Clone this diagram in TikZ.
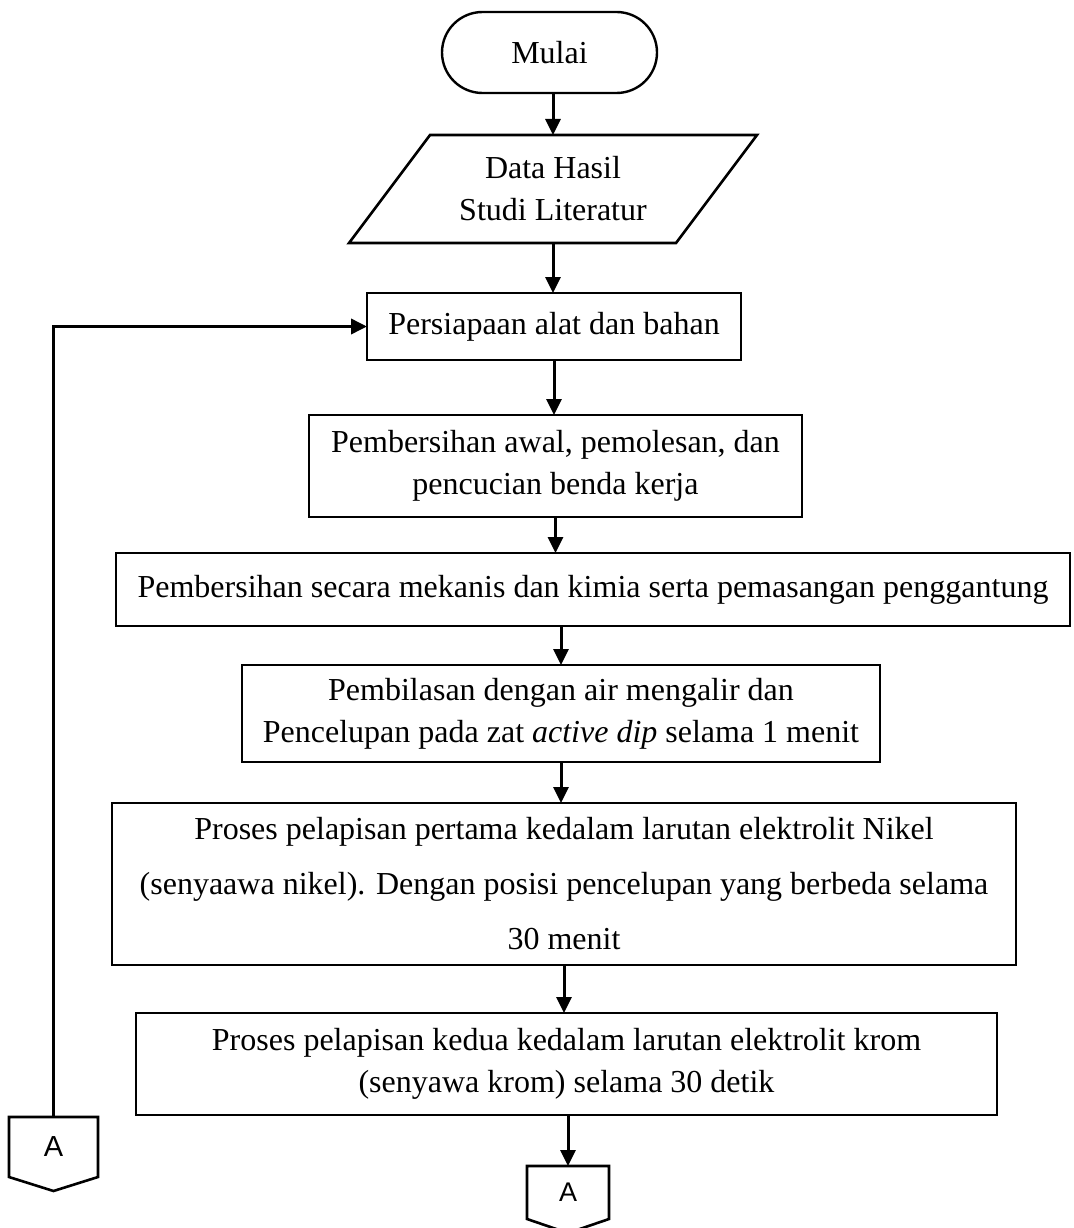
\documentclass[tikz,border=0pt]{standalone}
\usepackage{fontspec}
\setmainfont{Liberation Serif}
\setsansfont{Liberation Sans}
\usetikzlibrary{arrows.meta,calc}
\begin{document}
\begin{tikzpicture}[x=1pt,y=-1pt,
  every node/.style={inner sep=0pt, outer sep=0pt},
  txt/.style={align=center, font=\fontsize{32}{42}\selectfont},
  proc/.style={txt, draw, line width=2.4pt, rectangle},
  flow/.style={line width=3pt, -{Triangle[length=16pt,width=15pt]}},
  conn/.style={line width=2.6pt, line join=miter},
  offpage/.style={minimum width=#1, font=\sffamily\fontsize{29}{29}\selectfont},
  ]
\useasboundingbox (0,0) rectangle (1073,1228);

\node[proc, rounded corners=40.5pt, minimum width=215pt, minimum height=81pt] (start) at (549.5,52.5) {Mulai};

\node[txt, minimum width=250pt, minimum height=108pt] (data) at (553,189) {Data Hasil\\Studi Literatur};
\draw[conn] ($(data.north)+(-123,0)$) -- ($(data.north)+(204,0)$) -- ($(data.south)+(123,0)$) -- ($(data.south)+(-204,0)$) -- cycle;

\node[proc, minimum width=374pt, minimum height=67pt] (b1) at (554,326.5) {Persiapaan alat dan bahan};
\node[proc, minimum width=493pt, minimum height=102pt] (b2) at (555.5,466) {Pembersihan awal, pemolesan, dan\\pencucian benda kerja};
\node[proc, minimum width=954pt, minimum height=73pt] (b3) at (593,589.5) {Pembersihan secara mekanis dan kimia serta pemasangan penggantung};
\node[proc, minimum width=638pt, minimum height=97pt] (b4) at (561,713.5) {Pembilasan dengan air mengalir dan\\Pencelupan pada zat \textit{active dip} selama 1 menit};
\node[proc, minimum width=904pt, minimum height=162pt, font=\fontsize{32}{55}\selectfont] (b5) at (564,884) {Proses pelapisan pertama kedalam larutan elektrolit Nikel\\(senyaawa nikel). Dengan posisi pencelupan yang berbeda selama\\30 menit};
\node[proc, minimum width=861pt, minimum height=102pt] (b6) at (566.5,1064) {Proses pelapisan kedua kedalam larutan elektrolit krom\\(senyawa krom) selama 30 detik};

\node[offpage=89pt, minimum height=60pt] (A1) at (53.5,1147) {A};
\draw[conn] (A1.south west) -- (A1.north west) -- (A1.north east) -- (A1.south east) -- ($(A1.south)+(0,14)$) -- cycle;

\node[offpage=82pt, minimum height=53pt, font=\sffamily\fontsize{27}{27}\selectfont] (A2) at (568,1192.5) {A};
\draw[conn] (A2.south west) -- (A2.north west) -- (A2.north east) -- (A2.south east) -- ($(A2.south)+(0,14)$) -- cycle;

\draw[flow] (data.north |- start.south) -- (data.north);
\draw[flow] (data.south) -- (data.south |- b1.north);
\draw[flow] (b1.south) -- (b1.south |- b2.north);
\draw[flow] (b2.south) -- (b2.south |- b3.north);
\draw[flow] (b3.south -| b4.north) -- (b4.north);
\draw[flow] (b4.south) -- (b4.south |- b5.north);
\draw[flow] (b5.south) -- (b5.south |- b6.north);
\draw[flow] (b6.south -| A2.north) -- (A2.north);
\draw[flow, line width=3.6pt] (A1.north) -- (A1.north |- b1.west) -- (b1.west);
\end{tikzpicture}
\end{document}
